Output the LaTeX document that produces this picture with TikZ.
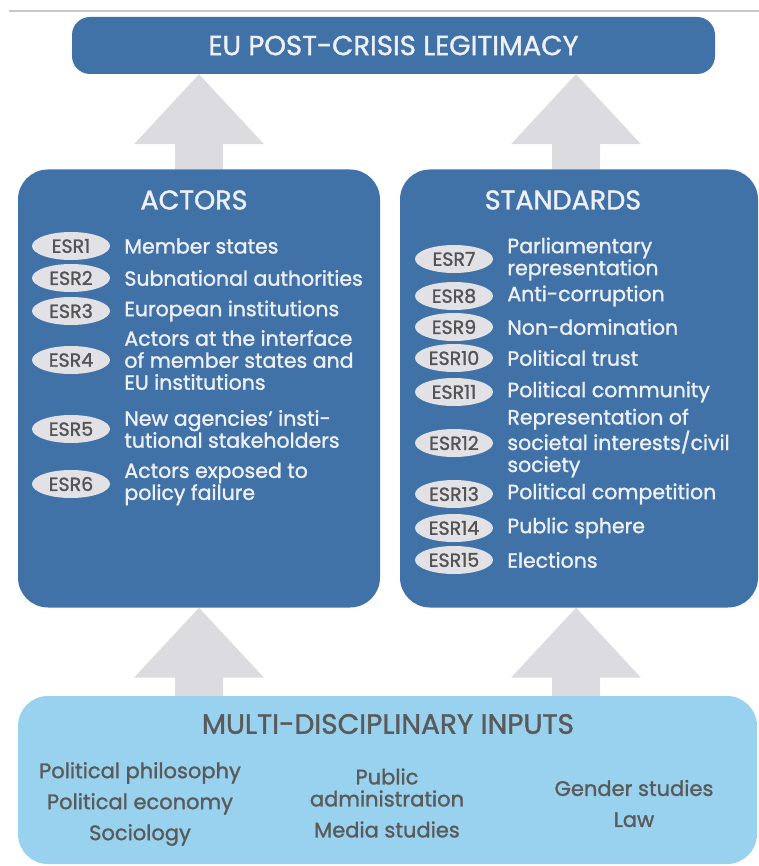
\documentclass[tikz,border=0pt]{standalone}
\usepackage{fontspec}
\setmainfont{Poppins}[FakeBold=1.3]
\usetikzlibrary{positioning,calc,shapes.geometric}
\pgfdeclarelayer{arrows}
\pgfsetlayers{arrows,main}

\definecolor{boxblue}{RGB}{64,114,168}
\definecolor{inputblue}{RGB}{152,210,238}
\definecolor{arrowgray}{RGB}{220,220,224}
\definecolor{ovalgray}{RGB}{226,226,230}
\definecolor{ovaltext}{RGB}{84,84,84}
\definecolor{boxtext}{RGB}{238,240,245}
\definecolor{inputtext}{RGB}{90,90,90}
\definecolor{rulegray}{RGB}{200,200,204}

% block arrow from foot #1 up to tip #2
\newcommand{\liftarrow}[2]{%
  \fill[arrowgray] (#2) -- ($(#2)+(65,70)$) -- ($(#2)+(24,70)$) -- ($(#1)+(24,0)$)
    -- ($(#1)+(-24,0)$) -- ($(#2)+(-24,70)$) -- ($(#2)+(-65,70)$) -- cycle;}

\begin{document}
\begin{tikzpicture}[x=1pt,y=-1pt]

  \tikzstyle{every node}=[font=\fontsize{20.5}{22}\selectfont]

  \tikzset{bigbox/.style={fill=boxblue, rounded corners=30pt, inner sep=0pt},
    boxtitle/.style={text=boxtext, font=\fontsize{27}{30}\selectfont},
    esr/.style={ellipse, fill=ovalgray, text=ovaltext, inner sep=0pt,
      minimum width=78pt, minimum height=28pt, font=\fontsize{19}{22}\selectfont},
    item/.style={text=boxtext, align=left, inner sep=0pt, right=14pt of #1},
    field/.style={text=inputtext, align=center, inner sep=0pt,
      font=\fontsize{21}{31}\selectfont}}

  \useasboundingbox (0,0) rectangle (759,866);

  % Rule at the top
  \draw[rulegray, line width=1.2pt] (9,11) -- (759,11);

  % Boxes
  \node[bigbox, rounded corners=18pt, minimum width=643pt, minimum height=57pt,
    text=boxtext, font=\fontsize{27.5}{30}\selectfont] (legit) at (393.5,45.5)
    {EU POST-CRISIS LEGITIMACY};
  \node[bigbox, minimum width=362pt, minimum height=438pt] (actors) at (199,388.5) {};
  \node[bigbox, minimum width=358pt, minimum height=438pt] (standards) at (579,388.5) {};
  \node[bigbox, fill=inputblue, minimum width=739pt, minimum height=168pt] (inputs)
    at (387.5,780) {};

  % Titles
  \node[boxtitle] (actors title) at (194,200) {ACTORS};
  \node[boxtitle] (standards title) at (563,200) {STANDARDS};
  \node[text=inputtext, font=\fontsize{28}{30}\selectfont] (inputs title)
    at (388,724) {MULTI-DISCIPLINARY INPUTS};

  % Actors
  \node[esr] (esr1) at (71,246) {ESR1};
  \node[item=esr1] (member) {Member states};
  \node[esr] (esr2) at (71,278) {ESR2};
  \node[item=esr2] (subnational) {Subnational authorities};
  \node[esr] (esr3) at (71,311) {ESR3};
  \node[item=esr3] (european) {European institutions};
  \node[esr] (esr4) at (71,360) {ESR4};
  \node[item=esr4] (interface) {Actors at the interface\\of member states and\\EU institutions};
  \node[esr] (esr5) at (71,429) {ESR5};
  \node[item=esr5] (agencies) {New agencies' insti-\\tutional stakeholders};
  \node[esr] (esr6) at (71,484) {ESR6};
  \node[item=esr6] (exposed) {Actors exposed to\\policy failure};

  % Standards
  \node[esr] (esr7) at (454,259) {ESR7};
  \node[item=esr7] (parliament) {Parliamentary\\representation};
  \node[esr] (esr8) at (454,296) {ESR8};
  \node[item=esr8] (corruption) {Anti-corruption};
  \node[esr] (esr9) at (454,327) {ESR9};
  \node[item=esr9] (domination) {Non-domination};
  \node[esr] (esr10) at (454,358) {ESR10};
  \node[item=esr10] (trust) {Political trust};
  \node[esr] (esr11) at (454,392) {ESR11};
  \node[item=esr11] (community) {Political community};
  \node[esr] (esr12) at (454,443) {ESR12};
  \node[item=esr12] (society) {Representation of\\societal interests/civil\\society};
  \node[esr] (esr13) at (454,494) {ESR13};
  \node[item=esr13] (competition) {Political competition};
  \node[esr] (esr14) at (454,528) {ESR14};
  \node[item=esr14] (sphere) {Public sphere};
  \node[esr] (esr15) at (454,560) {ESR15};
  \node[item=esr15] (elections) {Elections};

  % Disciplines
  \node[field] (philosophy) at (140,804) {Political philosophy\\Political economy\\Sociology};
  \node[field] (administration) at (387,803) {Public\\[-9pt]administration\\Media studies};
  \node[field] (gender) at (634,803.5) {Gender studies\\Law};

  % Arrows behind the boxes
  \begin{pgfonlayer}{arrows}
    \coordinate (A tip) at (actors.north |- legit.south);
    \coordinate (S tip) at ($(standards.north |- legit.south)+(-3,0)$);
    \liftarrow{actors.north}{A tip}
    \liftarrow{$(standards.north)+(-3,0)$}{S tip}
    \coordinate (A foot) at (actors.south |- inputs.north);
    \coordinate (S foot) at ($(standards.south |- inputs.north)+(-3,0)$);
    \liftarrow{A foot}{actors.south}
    \liftarrow{S foot}{$(standards.south)+(-3,0)$}
  \end{pgfonlayer}

\end{tikzpicture}
\end{document}
